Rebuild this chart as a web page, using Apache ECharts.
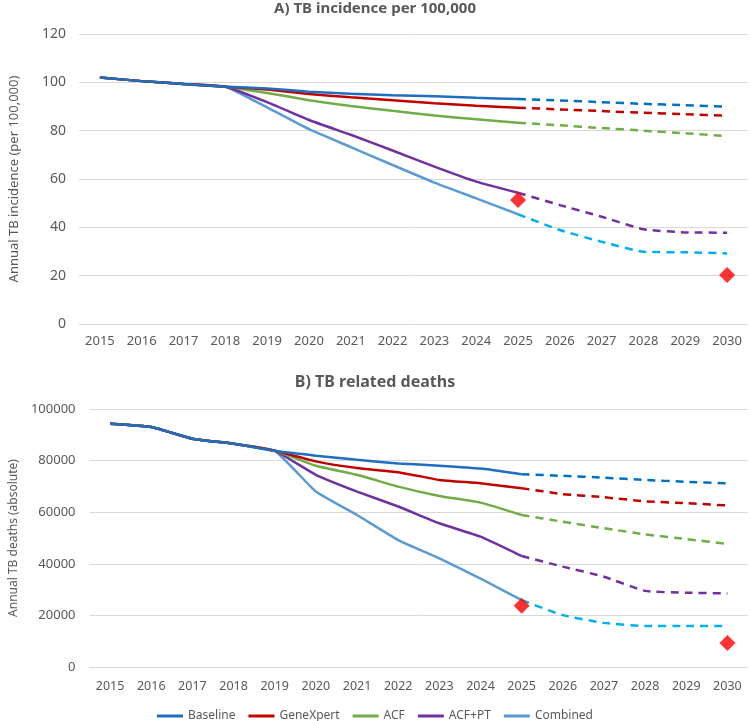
<!DOCTYPE html>
<html><head><meta charset="utf-8">
<script src="https://cdn.jsdelivr.net/npm/echarts@6/dist/echarts.min.js"></script>
<style>html,body{margin:0;padding:0;background:#fff}#c{width:750px;height:721px}</style>
</head><body><div id="c"></div>
<script>
const years = ['2015','2016','2017','2018','2019','2020','2021','2022','2023','2024','2025','2026','2027','2028','2029','2030'];
const scenarios = ['Baseline','GeneXpert','ACF','ACF+PT','Combined'];
const solidColors = ['#1F6FC0','#C00000','#70AD47','#7030A0','#5B9BD5'];
const dashColors  = ['#0070C0','#C00000','#70AD47','#7030A0','#00B0F0'];

// A) incidence per 100,000
const incBaseline  = [102,100.5,99.3,98.2,97.5,96.1,95.3,94.7,94.2,93.6,93.1,92.5,91.8,91.1,90.5,89.9];
const incGeneXpert = [102,100.5,99.3,98.2,97.0,95.2,93.8,92.6,91.3,90.3,89.5,88.8,88.1,87.4,86.8,86.2];
const incACF       = [102,100.5,99.3,98.2,95.6,92.6,90.2,88.2,86.3,84.7,83.3,82.2,81.1,80.0,78.9,77.8];
const incACFPT     = [102,100.5,99.3,98.2,91.8,84.4,78.3,71.8,65.1,58.9,54.3,49.2,44.4,39.2,37.9,37.8];
const incCombined  = [102,100.5,99.3,98.2,89.6,80.6,73.2,65.8,58.5,52.0,45.4,38.9,34.0,29.9,29.7,29.2];
const incTargets   = [null,null,null,null,null,null,null,null,null,null,51.3,null,null,null,null,20.3];

// B) TB related deaths
const dthBaseline  = [94300,93000,88500,86500,83800,81900,80300,78900,78000,76900,74700,74100,73400,72500,71800,71200];
const dthGeneXpert = [94300,93000,88500,86500,83800,79700,77100,75500,72500,71200,69300,67000,65800,64200,63500,62600];
const dthACF       = [94300,93000,88500,86500,83800,78000,74500,69900,66300,63700,58900,56300,53800,51400,49600,47700];
const dthACFPT     = [94300,93000,88500,86500,83800,74500,68000,62200,55700,50500,43000,38900,35000,29500,28800,28500];
const dthCombined  = [94300,93000,88500,86500,83800,68000,58900,49200,42100,34300,25900,20100,17100,15900,15900,15900];
const dthTargets   = [null,null,null,null,null,null,null,null,null,null,23700,null,null,null,null,9300];

const splitIdx = years.indexOf('2025');
const incData = [incBaseline,incGeneXpert,incACF,incACFPT,incCombined];
const dthData = [dthBaseline,dthGeneXpert,dthACF,dthACFPT,dthCombined];

const FONT = 'Noto Sans';
const TXT = '#595959';
const GRIDC = '#D9D9D9';

function makeSeries(dataSets, axisIdx) {
  const out = [];
  dataSets.forEach((arr, i) => {
    out.push({
      name: scenarios[i], type: 'line', xAxisIndex: axisIdx, yAxisIndex: axisIdx,
      data: arr.map((v, k) => k <= splitIdx ? v : null),
      symbol: 'none', smooth: 0.15, z: 3 + (4 - i),
      lineStyle: {color: solidColors[i], width: 2.5}, itemStyle: {color: solidColors[i]}
    });
    out.push({
      name: scenarios[i], type: 'line', xAxisIndex: axisIdx, yAxisIndex: axisIdx,
      data: arr.map((v, k) => k >= splitIdx ? v : null),
      symbol: 'none', smooth: 0.15, z: 3,
      lineStyle: {color: dashColors[i], width: 2.5, type: [8, 6]}, itemStyle: {color: dashColors[i]}
    });
  });
  return out;
}

const series = [].concat(makeSeries(incData, 0), makeSeries(dthData, 1));
series.push({type:'scatter', xAxisIndex:0, yAxisIndex:0, data: incTargets, symbol:'diamond', symbolSize:16, itemStyle:{color:'#FF0000'}, z:10});
series.push({type:'scatter', xAxisIndex:1, yAxisIndex:1, data: dthTargets, symbol:'diamond', symbolSize:16, itemStyle:{color:'#FF0000'}, z:10});

function xAx(gi, margin, fs) {
  return {type:'category', gridIndex: gi, data: years, boundaryGap: true,
    axisLine:{lineStyle:{color:GRIDC}}, axisTick:{show:false},
    axisLabel:{color:TXT, fontFamily:FONT, fontSize:fs, margin: margin, interval:0}};
}
function yAx(gi, max, interval, name, gap, fs, nfs, margin) {
  return {type:'value', gridIndex: gi, min:0, max:max, interval:interval,
    name:name, nameLocation:'middle', nameGap:gap, nameRotate:90,
    nameTextStyle:{color:TXT, fontFamily:FONT, fontSize:nfs},
    axisLine:{show:false}, axisTick:{show:false},
    axisLabel:{color:TXT, fontFamily:FONT, fontSize:fs, margin:margin, formatter: v => String(v)},
    splitLine:{lineStyle:{color:GRIDC, width:1}}};
}

const chart = echarts.init(document.getElementById('c'), null, {renderer:'canvas'});
chart.setOption({
  animation:false,
  backgroundColor:'#fff',
  title:[
    {text:'A) TB incidence per 100,000', left:'center', top:1, padding:0, textStyle:{color:TXT, fontFamily:FONT, fontSize:15, fontWeight:'bold'}},
    {text:'B) TB related deaths', left:'center', top:374, padding:0, textStyle:{color:TXT, fontFamily:FONT, fontSize:16, fontWeight:'bold'}}
  ],
  legend:{data: scenarios, top: 705, left:'center', icon:'rect', itemWidth:26, itemHeight:3, itemGap:13,
    textStyle:{color:TXT, fontFamily:FONT, fontSize:12}},
  grid:[
    {left:71, right:2, top:34, height:290},
    {left:79, right:2, top:409, height:258}
  ],
  xAxis:[xAx(0, 11, 13), xAx(1, 13, 12.5)],
  yAxis:[yAx(0, 120, 20, 'Annual TB incidence (per 100,000)', 58, 14, 13, 13),
         yAx(1, 100000, 20000, 'Annual TB deaths (absolute)', 68, 13, 12, 14)],
  series: series
});
</script></body></html>
